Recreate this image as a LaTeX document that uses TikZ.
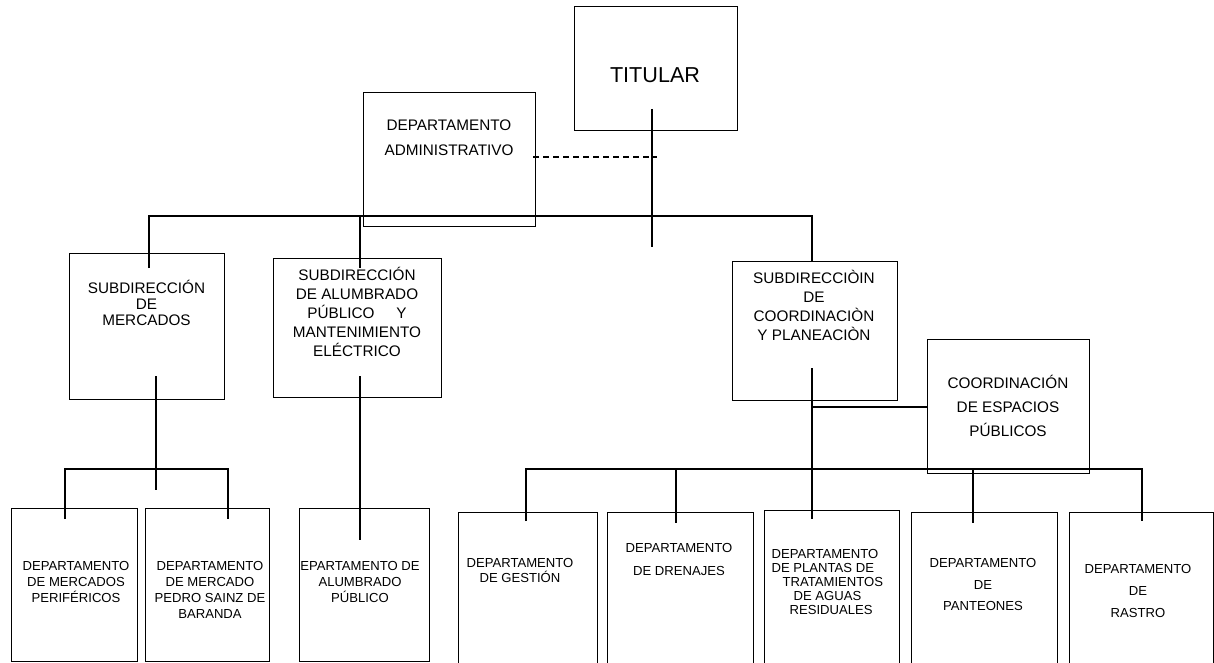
\documentclass[tikz,border=0pt]{standalone}
\usepackage{fontspec}
\setmainfont{Liberation Sans}
\begin{document}
\begin{tikzpicture}[x=1pt,y=-1pt,line width=1.2pt,
  obox/.style 2 args={draw,rectangle,inner sep=0pt,anchor=north west,minimum width=#1,minimum height=#2},
  midt/.style={font=\fontsize{15.3}{19}\selectfont,align=center,inner sep=0pt},
  lowt/.style={font=\fontsize{13.1}{16}\selectfont,align=center,inner sep=0pt},
  dash line/.style={dash pattern=on 6pt off 4pt}]
\useasboundingbox (0,0) rectangle (1214,663);
\clip (0,0) rectangle (1214,663);
% boxes
\node[obox={163pt}{124pt}] (tit) at (574,6) {};
\node[obox={172pt}{134pt}] (adm) at (363,92) {};
\node[obox={155pt}{146pt}] (smer) at (69,253) {};
\node[obox={168pt}{139pt}] (salu) at (273,258) {};
\node[obox={165pt}{139pt}] (scoo) at (732,261) {};
\node[obox={162pt}{134pt}] (cesp) at (927,339) {};
\node[obox={126pt}{153pt}] (d1) at (11,508) {};
\node[obox={124pt}{153pt}] (d2) at (145,508) {};
\node[obox={130pt}{153pt}] (d3) at (299,508) {};
\node[obox={139pt}{170pt}] (d4) at (458,512) {};
\node[obox={146pt}{170pt}] (d5) at (607,512) {};
\node[obox={135pt}{170pt}] (d6) at (764,510) {};
\node[obox={146pt}{170pt}] (d7) at (911,512) {};
\node[obox={144pt}{170pt}] (d8) at (1069,512) {};
% texts
\node[inner sep=0pt,font=\fontsize{21.6}{24}\selectfont] (ttit) at (655,75) {TITULAR};
\node[midt,font=\fontsize{15.3}{25}\selectfont] (tadm) at (449,137.5) {DEPARTAMENTO\\ADMINISTRATIVO};
\node[midt,font=\fontsize{15.3}{16}\selectfont] (tsmer) at (146.5,303) {SUBDIRECCIÓN\\DE\\MERCADOS};
\node[midt] (tsalu) at (357,312) {SUBDIRECCIÓN\\DE ALUMBRADO\\PÚBLICO\hspace*{22pt}Y\\MANTENIMIENTO\\ELÉCTRICO};
\node[midt] (tscoo) at (814,305.5) {SUBDIRECCIÒIN\\DE\\COORDINACIÒN\\Y PLANEACIÒN};
\node[midt,font=\fontsize{15.3}{24}\selectfont] (tcesp) at (1008,406) {COORDINACIÓN\\DE ESPACIOS\\PÚBLICOS};
\node[lowt] (td1) at (76,582) {DEPARTAMENTO\\DE MERCADOS\\PERIFÉRICOS};
\node[lowt] (td2) at (210,590) {DEPARTAMENTO\\DE MERCADO\\PEDRO SAINZ DE\\BARANDA};
\node[lowt] (td3) at (360,582) {EPARTAMENTO DE\\ALUMBRADO\\PÚBLICO};
\node[lowt,font=\fontsize{13.1}{15}\selectfont] (td4) at (520,570.5) {DEPARTAMENTO\\DE GESTIÓN};
\node[lowt,font=\fontsize{13.1}{23}\selectfont] (td5) at (679,559.5) {DEPARTAMENTO\\DE DRENAJES};
\node[lowt,font=\fontsize{13.1}{14}\selectfont,align=left,anchor=west] (td6) at (771,582) {DEPARTAMENTO\\DE PLANTAS DE\\\hspace*{11pt}TRATAMIENTOS\\\hspace*{22pt}DE AGUAS\\\hspace*{18pt}RESIDUALES};
\node[lowt,font=\fontsize{13.1}{21.5}\selectfont] (td7) at (983,584.5) {DEPARTAMENTO\\DE\\PANTEONES};
\node[lowt,font=\fontsize{13.1}{22}\selectfont] (td8) at (1138,591) {DEPARTAMENTO\\DE\\RASTRO};
% connector points
\coordinate (t1) at (652,109); \coordinate (t2) at (652,247);
\coordinate (da) at (533,157); \coordinate (db) at (657,157);
\coordinate (bL) at (149,216); \coordinate (bM) at (360,216); \coordinate (bR) at (812,216);
\coordinate (eL) at (149,268); \coordinate (eM) at (360,268); \coordinate (eR) at (812,261);
\coordinate (m1) at (156,376); \coordinate (m2) at (156,490);
\coordinate (mL) at (65,469); \coordinate (mR) at (228,469);
\coordinate (mLe) at (65,519); \coordinate (mRe) at (228,519);
\coordinate (a1) at (360,376); \coordinate (a2) at (360,540);
\coordinate (c1) at (812,368); \coordinate (c2) at (812,519);
\coordinate (cj) at (812,407); \coordinate (ce) at (927,407);
\coordinate (gL) at (526,469); \coordinate (gR) at (1142,469);
\coordinate (g2) at (676,469); \coordinate (g4) at (973,469);
\coordinate (gLe) at (526,521); \coordinate (g2e) at (676,523);
\coordinate (g4e) at (973,523); \coordinate (gRe) at (1142,521);
% connectors
\draw (t1) -- (t2);
\draw[dash line] (da) -- (db);
\draw (eL) -- (bL) -- (bR) -- (eR);
\draw (bM) -- (eM);
\draw (m1) -- (m2);
\draw (mLe) -- (mL) -- (mR) -- (mRe);
\draw (a1) -- (a2);
\draw (c1) -- (c2);
\draw (cj) -- (ce);
\draw (gLe) -- (gL) -- (gR) -- (gRe);
\draw (g2) -- (g2e);
\draw (g4) -- (g4e);
\end{tikzpicture}
\end{document}
